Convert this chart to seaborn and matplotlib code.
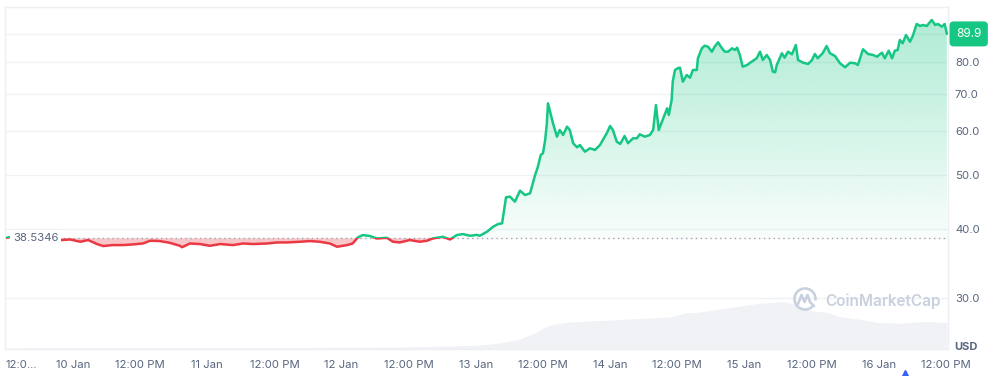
import numpy as np
import pandas as pd
import seaborn as sns
import matplotlib.pyplot as plt
import matplotlib.colors as mcolors
import matplotlib.transforms as mtransforms
from matplotlib.patches import Rectangle, Arc
from matplotlib.lines import Line2D
from matplotlib.ticker import NullLocator

# ---------- data ----------
START = pd.Timestamp("2024-01-10 00:00")
BASE_PRICE = 38.5346

# hours after 10 Jan 00:00
price_hours = [
    -11.8, -11.4, -2.0, -0.5, 1.3, 2.7, 4.3, 5.4, 7.1, 8.9, 10.7, 12.5, 13.8, 15.5,
    17.3, 19.1, 19.5, 20.9, 22.7, 24.5, 26.3, 28.6, 30.4, 32.2, 34.7, 36.5, 38.2,
    40.6, 42.4, 44.1, 45.9, 47.2, 49.0, 50.0, 50.9, 51.8, 53.1, 54.3, 56.1, 57.2,
    58.4, 60.2, 62.0, 63.3, 64.3, 66.1, 67.4, 68.6, 69.7, 71.0, 72.2, 72.7, 74.0,
    75.1, 76.0, 76.7, 77.4, 78.1, 79.0, 79.9, 80.8, 81.7, 82.6, 83.1, 83.6, 84.0,
    84.4, 84.7, 84.9, 85.2, 85.8, 86.5, 87.0, 87.6, 88.3, 88.8, 89.4, 90.1, 90.6,
    91.5, 92.4, 93.3, 94.2, 94.7, 95.4, 96.0, 96.5, 97.2, 97.8, 98.6, 99.2, 100.1,
    100.8, 101.3, 102.2, 103.1, 103.7, 104.2, 104.7, 105.4, 106.2, 106.5, 107.0,
    107.2, 107.6, 108.1, 108.5, 109.0, 109.7, 110.3, 110.8, 111.5, 111.7, 112.4,
    112.9, 113.5, 114.2, 114.7, 115.3, 116.0, 116.5, 117.1, 117.8, 118.3, 118.7,
    119.2, 119.7, 120.5, 121.3, 122.2, 122.8, 123.3, 124.0, 124.6, 125.1, 125.5,
    125.8, 126.7, 127.2, 127.8, 128.5, 129.2, 129.6, 130.5, 131.4, 132.1, 132.6,
    133.1, 134.0, 134.7, 135.3, 136.2, 137.1, 138.0, 138.9, 139.8, 140.3, 141.2,
    142.1, 143.0, 143.7, 144.6, 145.1, 145.8, 146.4, 146.9, 147.4, 147.8, 148.3,
    148.9, 149.6, 150.1, 150.8, 151.4, 151.9, 152.6, 153.5, 154.1, 154.6, 155.3,
    155.8, 156.2,
]
prices = [
    38.5346, 38.62, 38.17, 38.26, 37.90, 38.17, 37.54, 37.23, 37.38, 37.38, 37.48,
    37.63, 38.06, 38.01, 37.74, 37.27, 37.05, 37.63, 37.54, 37.27, 37.54, 37.38,
    37.63, 37.54, 37.63, 37.79, 37.79, 37.90, 38.01, 37.90, 37.63, 37.12, 37.38,
    37.63, 38.58, 38.97, 38.81, 38.42, 38.53, 37.90, 37.79, 38.17, 37.90, 38.06,
    38.42, 38.69, 38.26, 38.97, 39.13, 38.85, 39.00, 38.85, 39.51, 40.34, 40.80,
    40.92, 45.59, 45.71, 44.77, 46.86, 46.02, 46.35, 50.02, 51.77, 54.35, 54.74,
    57.85, 62.01, 67.38, 65.53, 62.01, 58.65, 60.30, 59.06, 61.14, 60.30, 57.07,
    56.12, 56.66, 55.10, 55.89, 55.50, 56.66, 57.85, 59.48, 61.31, 60.30, 57.44,
    56.90, 58.82, 57.07, 58.26, 58.26, 59.24, 58.65, 59.06, 60.30, 66.91, 60.30,
    62.87, 66.00, 64.19, 68.31, 73.71, 77.38, 77.94, 78.13, 73.71, 75.79, 74.95,
    77.38, 77.38, 81.24, 84.69, 85.61, 85.26, 83.50, 85.26, 86.82, 84.69, 83.50,
    83.50, 84.69, 84.09, 84.90, 82.36, 78.46, 79.01, 80.10, 81.24, 83.50, 80.67,
    82.36, 80.67, 76.84, 76.65, 79.01, 82.95, 81.44, 83.50, 82.60, 85.85, 80.67,
    79.77, 79.34, 80.67, 82.71, 81.24, 82.95, 85.50, 82.95, 82.02, 79.57, 78.26,
    79.77, 79.57, 79.01, 84.34, 82.71, 82.36, 81.78, 83.15, 81.24, 83.85, 81.24,
    83.85, 84.09, 87.66, 86.47, 89.51, 87.04, 89.13, 93.69, 92.91, 93.30, 92.91,
    95.26, 93.30, 93.69, 92.64, 93.69, 89.90,
]

vol_hours = [
    -11.8, 4.8, 22.7, 40.6, 58.4, 67.4, 72.7, 76.3, 79.9, 82.6, 84.4, 86.1, 88.8,
    92.4, 96.0, 99.5, 103.1, 106.7, 109.4, 112.1, 115.7, 119.2, 122.8, 127.2,
    128.7, 132.2, 134.7, 137.1, 140.6, 144.2, 147.8, 151.4, 153.7, 156.2,
]
volumes = [  # 24h volume, millions USD (approx.)
    10, 15, 15, 15, 20, 30, 40, 60, 100, 160, 220, 250, 270, 280, 290, 300, 310,
    320, 360, 370, 400, 430, 457, 473, 450, 380, 367, 323, 297, 263, 257, 273,
    273, 263,
]

y_ticks = [30, 40, 50, 60, 70, 80]
grid_levels = [30, 40, 50, 60, 70, 80, 90]

# ---------- style ----------
GREEN, RED = "#16c784", "#ea3943"
TEXT = "#58667e"
GRID = "#eff2f5"

sns.set_theme(style="white")
plt.rcParams["font.family"] = ["Inter", "DejaVu Sans"]

t = START + pd.to_timedelta(price_hours, unit="h")
tv = START + pd.to_timedelta(vol_hours, unit="h")
df = pd.DataFrame({"time": t, "price": prices})

W, H = 1005, 376
fig = plt.figure(figsize=(W / 100, H / 100), dpi=100)
px0, px1, py0, py1 = 5, 948, 7, 349          # plot frame in pixels
rect = [px0 / W, 1 - py1 / H, (px1 - px0) / W, (py1 - py0) / H]

axv = fig.add_axes(rect)
ax = fig.add_axes(rect, sharex=axv)
ax.patch.set_alpha(0)

xlo = START - pd.Timedelta(hours=12.15)
xhi = START + pd.Timedelta(hours=156.4)
ylo, yhi = 24.27, 100.54

# volume underneath
axv.fill_between(tv, volumes, 0, color="#f0f2f6", lw=0)
axv.set_ylim(0, 3420)
axv.axis("off")

# price panel
ax.set_yscale("log")
for v in grid_levels:
    ax.axhline(v, color=GRID, lw=1, zorder=0)

poly = ax.fill_between(df["time"], df["price"], BASE_PRICE,
                       facecolor=RED, alpha=0.28, lw=0, zorder=1)

bfrac = (np.log(BASE_PRICE) - np.log(ylo)) / (np.log(yhi) - np.log(ylo))
n = 256
grad = np.zeros((n, 1, 4))
grad[..., :3] = mcolors.to_rgb(GREEN)
grad[:, 0, 3] = np.linspace(0.03, 0.36, n)
im = ax.imshow(grad, extent=[0, 1, bfrac, 1], transform=ax.transAxes,
               origin="lower", aspect="auto", interpolation="bilinear", zorder=1)
im.set_clip_path(poly.get_paths()[0], transform=ax.transData)

ax.axhline(BASE_PRICE, color="#9aa4b5", lw=1, ls=(0, (1, 2.5)), zorder=2)

sns.lineplot(data=df, x="time", y="price", ax=ax, color=GREEN, lw=1.8,
             estimator=None, sort=False, zorder=3)
green_line = ax.lines[-1]
sns.lineplot(data=df, x="time", y="price", ax=ax, color=RED, lw=1.8,
             estimator=None, sort=False, zorder=3)
red_line = ax.lines[-1]

ax.set_xlim(xlo, xhi)
ax.set_ylim(ylo, yhi)
xa, xb = ax.get_xlim()
above = Rectangle((xa, BASE_PRICE), xb - xa, 1000 - BASE_PRICE, transform=ax.transData)
below = Rectangle((xa, 1), xb - xa, BASE_PRICE - 1, transform=ax.transData)
green_line.set_clip_path(above)
red_line.set_clip_path(below)
poly.set_clip_path(below)

# axes
ax.set_xlabel("")
ax.set_ylabel("")
ax.yaxis.tick_right()
ax.yaxis.set_minor_locator(NullLocator())
ax.set_yticks(y_ticks)
ax.set_yticklabels([f"{v:.1f}" for v in y_ticks])

xt = [START + pd.Timedelta(hours=12 * k) for k in range(-1, 14)]
xl = []
for k, d in zip(range(-1, 14), xt):
    if k == -1:
        xl.append("12:0...")
    elif d.hour == 0:
        xl.append(f"{d.day} Jan")
    else:
        xl.append("12:00 PM")
ax.set_xticks(xt)
ax.set_xticklabels(xl)
ax.get_xticklabels()[0].set_ha("left")
ax.tick_params(axis="both", length=0, labelsize=8.2, colors=TEXT)
ax.tick_params(axis="x", pad=8)
ax.tick_params(axis="y", pad=5)
for s in ax.spines.values():
    s.set_color("#eceff3")
    s.set_linewidth(1)

# labels on the chart
blend = mtransforms.blended_transform_factory(ax.transAxes, ax.transData)
ax.text(8 / (px1 - px0), BASE_PRICE, f"{BASE_PRICE}", transform=blend,
        ha="left", va="center", fontsize=8.2, color=TEXT, zorder=6,
        bbox=dict(boxstyle="square,pad=0.25", fc="white", ec="none"))
ax.text(1 + 8 / (px1 - px0), prices[-1], f"{prices[-1]:.1f}", transform=blend,
        ha="left", va="center", fontsize=8.5, color="white", zorder=6, clip_on=False,
        bbox=dict(boxstyle="round,pad=0.55,rounding_size=0.35", fc=GREEN, ec="none"))
fig.text(966 / W, 1 - 347 / H, "USD", ha="center", va="center",
         fontsize=8, fontweight="bold", color=TEXT)

# watermark
WM = "#c9d1df"
fig.text(825 / W, 1 - 301 / H, "CoinMarketCap", ha="left", va="center",
         fontsize=11, fontweight="semibold", color=WM)
cx, cy = 805, 299
fig.add_artist(Arc((cx / W, 1 - cy / H), 21 / W, 21 / H, theta1=-20, theta2=300,
                   transform=fig.transFigure, color=WM, lw=1.9))
mx = [-7, -3.5, -0.5, 2.5, 5, 9]
my = [5, -4, 3, -4, 3, 7]
fig.add_artist(Line2D([(cx + a) / W for a in mx], [1 - (cy + b) / H for b in my],
                      transform=fig.transFigure, color=WM, lw=1.9,
                      solid_joinstyle="round", solid_capstyle="round"))
fig.add_artist(Line2D([905 / W], [1 - 373 / H], transform=fig.transFigure,
                      marker="^", ms=4, color="#3861fb", lw=0))

fig.savefig("out.png", dpi=100)
